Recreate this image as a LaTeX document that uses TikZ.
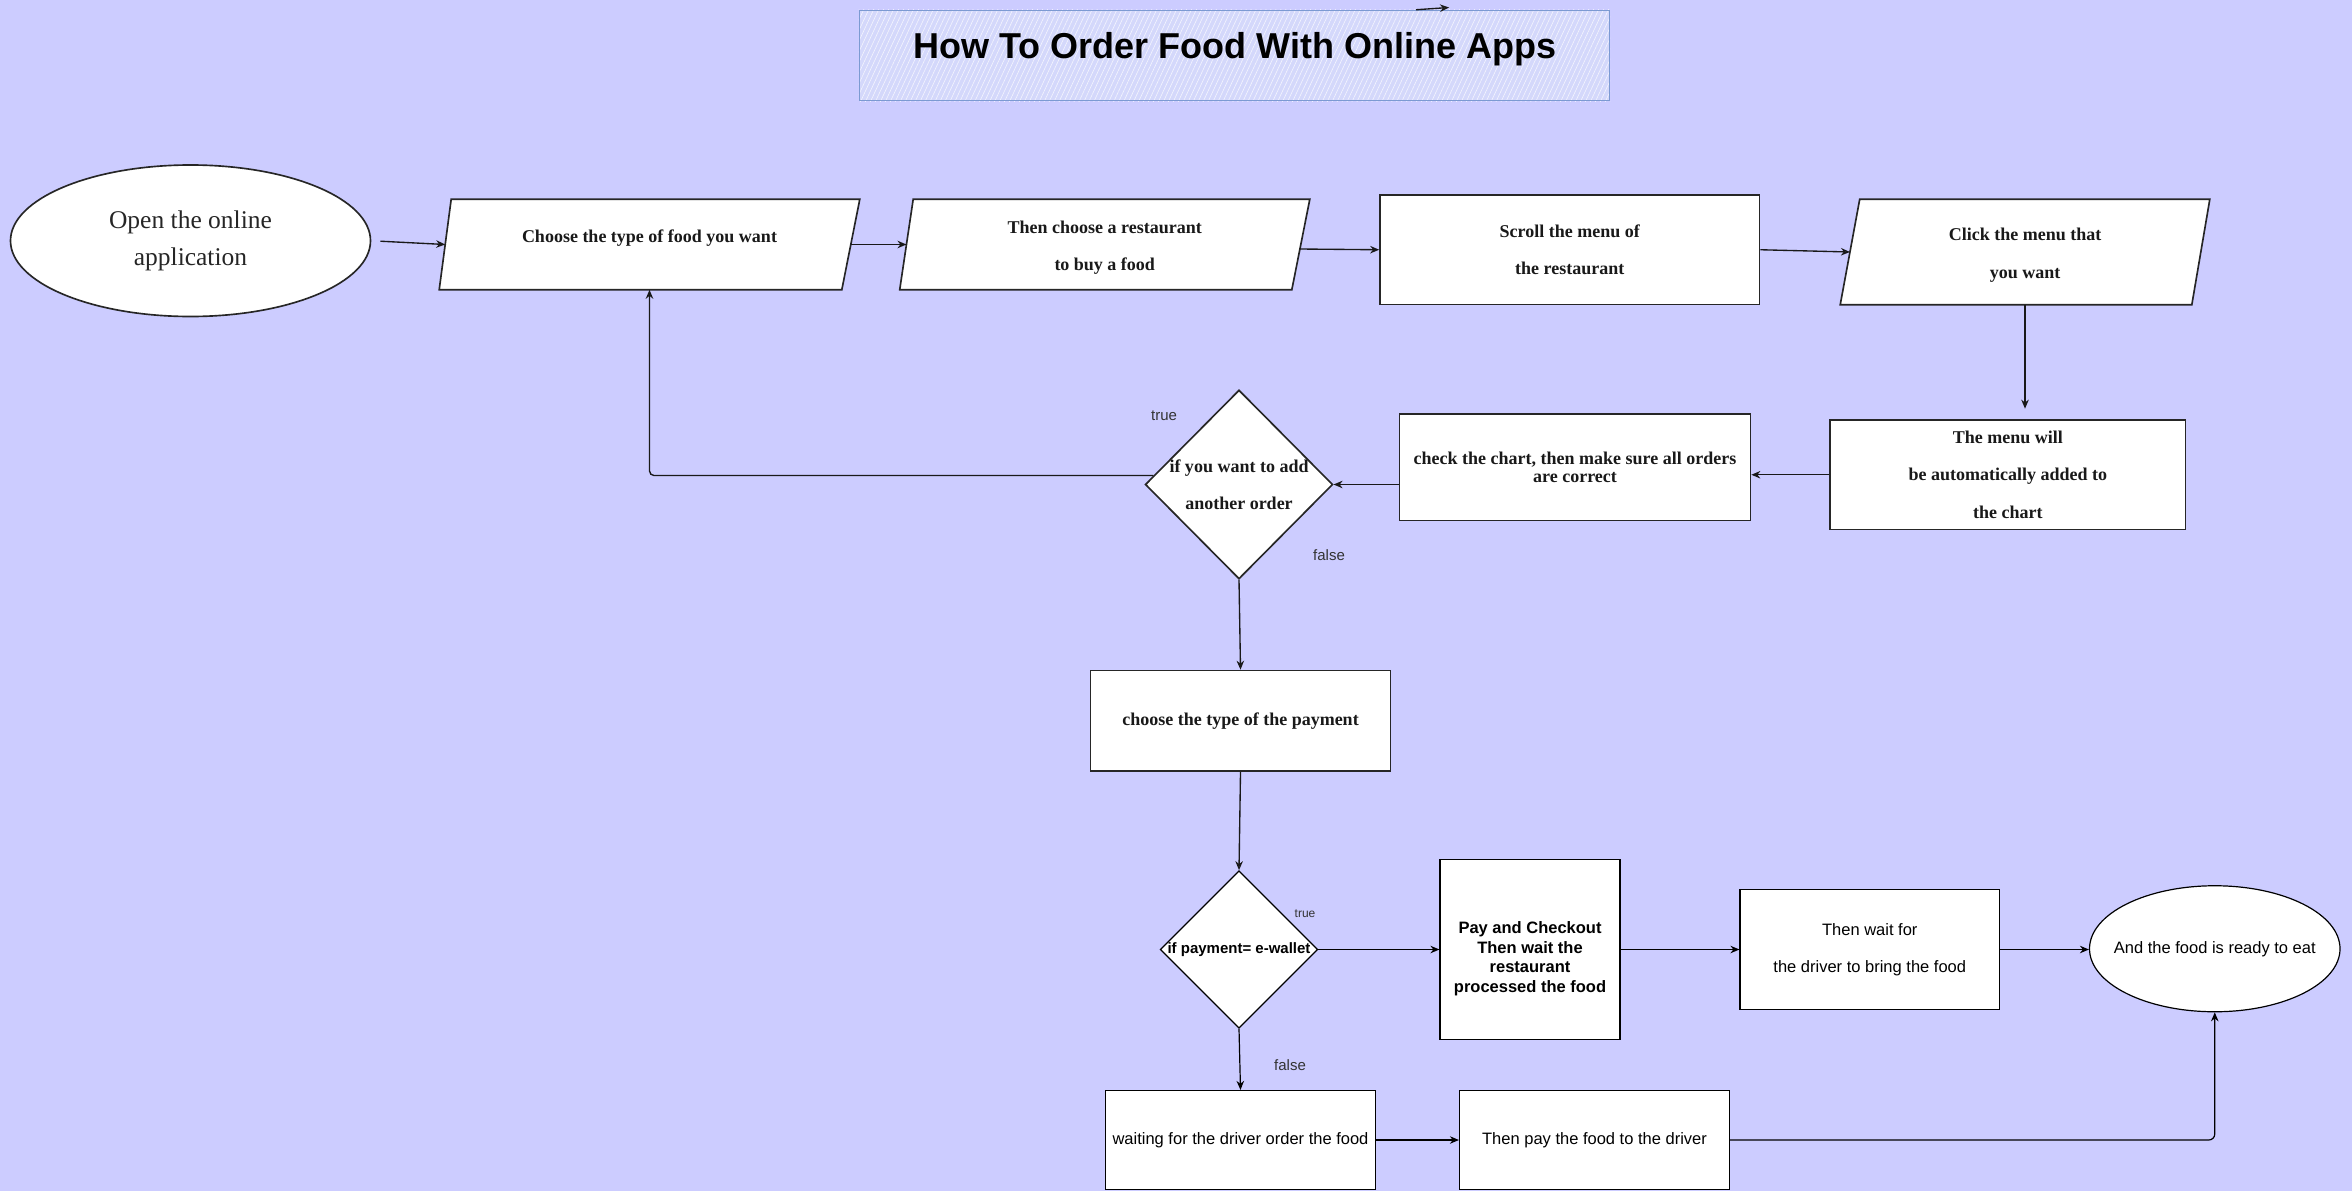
\documentclass[tikz,border=0pt]{standalone}
\usepackage{fontspec}
\setmainfont{Liberation Serif}
\setsansfont{Liberation Sans}
\usetikzlibrary{shapes.geometric,arrows.meta,calc,patterns.meta}
\definecolor{bgc}{HTML}{CCCCFF}
\definecolor{titlefill}{HTML}{D4D8FB}
\definecolor{titleline}{HTML}{7C9AD2}
\definecolor{lblc}{HTML}{333333}
\pgfdeclarelayer{back}
\pgfdeclarelayer{shapes}
\pgfsetlayers{back,shapes,main}
\begin{document}
\begin{tikzpicture}[x=1bp,y=-1bp,
  sk/.style={draw=black!85, line width=1.1bp, fill=white},
  skbox/.style={sk, rectangle, inner sep=0pt},
  plain/.style={draw=black, line width=0.8bp, fill=white, inner sep=0pt},
  ghost/.style={draw=none, inner sep=0pt},
  ser/.style={font=\fontsize{12bp}{25bp}\selectfont\bfseries, align=center, text=black!90},
  sertight/.style={font=\fontsize{12bp}{12bp}\selectfont\bfseries, align=center, text=black!90},
  sansr/.style={font=\fontsize{11bp}{25bp}\selectfont\sffamily, align=center},
  sansb/.style={font=\fontsize{11bp}{13bp}\selectfont\sffamily\bfseries, align=center},
  lbl/.style={font=\fontsize{10bp}{12bp}\selectfont\sffamily, text=lblc, inner sep=0pt},
  arr/.style={-{Stealth[open,length=6bp,width=5bp]}, line width=0.9bp, draw=black!90},
  arrb/.style={-{Stealth[length=6bp,width=5bp]}, line width=0.8bp, draw=black}]

\begin{pgfonlayer}{back}
\fill[bgc] (0,0) rectangle (1568,794);
\end{pgfonlayer}
\useasboundingbox (0,0) rectangle (1568,794);

% title
\node[draw=titleline, line width=0.8bp, minimum width=500bp, minimum height=60bp, inner sep=0pt,
      label={[font=\fontsize{24bp}{28bp}\selectfont\sffamily\bfseries, yshift=4bp]center:How To Order Food With Online Apps}]
      (title) at (823,37) {};
\begin{pgfonlayer}{shapes}
\fill[titlefill] (title.south west) rectangle (title.north east);
\path[pattern={Lines[angle=65,distance=3bp,line width=0.4bp]}, pattern color=white!75!titlefill]
      (title.south west) rectangle (title.north east);
\end{pgfonlayer}
\coordinate (s1) at (944,6.5);
\coordinate (s2) at (966,5);
\draw[arr] (s1) -- (s2);

% top row
\node[sk, ellipse, minimum width=240bp, minimum height=101bp, inner sep=0pt,
      font=\fontsize{17bp}{25bp}\selectfont, align=center, text=black!85]
      (e1) at (127,160.5) {Open the online\\application};

\node[ghost, minimum width=280bp, minimum height=60bp,
      label={[ser, yshift=4bp]center:Choose the type of food you want}] (p1) at (433,163) {};
\node[ghost, minimum width=273bp, minimum height=60bp,
      label={[ser, yshift=-2bp]center:Then choose a restaurant\\to buy a food}] (p2) at (736.5,163) {};
\node[skbox, minimum width=253bp, minimum height=73bp, ser] (r3) at (1046.5,166.5) {Scroll the menu of\\the restaurant};
\node[ghost, minimum width=246bp, minimum height=70bp,
      label={[ser, yshift=-2bp]center:Click the menu that\\you want}] (p4) at (1350,168) {};

\begin{pgfonlayer}{shapes}
\draw[sk] (p1.south west) -- ($(p1.north west)+(8,0)$) -- (p1.north east) -- ($(p1.south east)+(-12,0)$) -- cycle;
\draw[sk] (p2.south west) -- ($(p2.north west)+(9,0)$) -- (p2.north east) -- ($(p2.south east)+(-12,0)$) -- cycle;
\draw[sk] (p4.south west) -- ($(p4.north west)+(13,0)$) -- (p4.north east) -- ($(p4.south east)+(-12,0)$) -- cycle;
\end{pgfonlayer}

% second row
\node[skbox, minimum width=237bp, minimum height=73bp, ser] (r5) at (1338.5,316.5) {The menu will\\be automatically added to\\the chart};
\node[skbox, minimum width=234bp, minimum height=71bp, sertight] (r6) at (1050,311.5) {check the chart, then make sure all orders\\are correct};
\node[sk, diamond, minimum width=125bp, minimum height=126bp, inner sep=0pt,
      label={[ser]center:if you want to add\\another order}] (d1) at (826,323) {};

\node[lbl] (t1) at (776,277) {true};
\node[lbl] (f1) at (886,370) {false};

% payment
\node[skbox, minimum width=200bp, minimum height=67bp, ser] (r7) at (827,480.5) {choose the type of the payment};
\node[plain, diamond, minimum width=105bp, minimum height=105bp,
      label={[font=\fontsize{10bp}{12bp}\selectfont\sffamily\bfseries]center:if payment= e-wallet}] (d2) at (826,633) {};
\node[plain, minimum width=120bp, minimum height=120bp,
      label={[sansb, yshift=-6bp]center:Pay and Checkout\\Then wait the\\restaurant\\processed the food}] (r8) at (1020,633) {};
\node[plain, minimum width=173bp, minimum height=80bp, sansr] (r9) at (1246.5,633) {Then wait for\\the driver to bring the food};
\node[plain, ellipse, minimum width=167bp, minimum height=84bp,
      label={[font=\fontsize{11bp}{13bp}\selectfont\sffamily]center:And the food is ready to eat}] (e2) at (1476.5,632.5) {};
\node[plain, minimum width=180bp, minimum height=66bp, sansr] (r10) at (827,760) {waiting for the driver order the food};
\node[plain, minimum width=180bp, minimum height=66bp, sansr] (r11) at (1063,760) {Then pay the food to the driver};

\node[lbl, font=\fontsize{8bp}{10bp}\selectfont\sffamily] (t2) at (870,609) {true};
\node[lbl] (f2) at (860,710) {false};

% connectors top
\draw[arr, shorten <=6bp] (e1.east) -- ($(p1.west)+(4,0)$);
\draw[arr] ($(p1.east)+(-6,0)$) -- ($(p2.west)+(4.5,0)$);
\draw[arr] ($(p2.east)+(-7,3)$) -- (r3.west);
\draw[arr] (r3.east) -- ($(p4.west)+(6.5,0)$);
\draw[arr, shorten >=7bp] (p4.south) -- (p4.south |- r5.north);
\draw[arr] (r5.west) -- (r5.west -| r6.east);
\draw[arr] (r6.west |- d1.east) -- (d1.east);
\draw[arr, rounded corners=3bp] (d1.174) -| (p1.south);
\draw[arr] (d1.south) -- (r7.north);
\draw[arr] (r7.south) -- (d2.north);

% connectors bottom
\draw[arrb] (d2.east) -- (r8.west);
\draw[arrb] (r8.east) -- (r9.west);
\draw[arrb] (r9.east) -- (r9.east -| e2.west);
\draw[arrb] (d2.south) -- (r10.north);
\draw[arrb] (r10.east) -- (r11.west);
\draw[arrb, rounded corners=4bp] (r11.east) -| (e2.south);
\end{tikzpicture}
\end{document}
